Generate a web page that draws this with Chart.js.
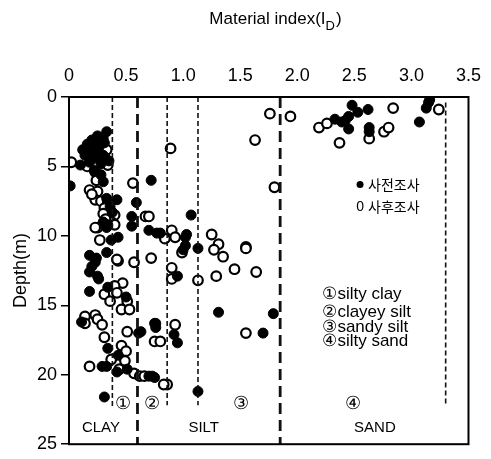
<!DOCTYPE html>
<html>
<head>
<meta charset="utf-8">
<script src="https://cdn.jsdelivr.net/npm/chart.js@4/dist/chart.umd.min.js"></script>
<style>
  html, body { margin: 0; padding: 0; background: #fff; }
  #wrap { width: 491px; height: 459px; }
</style>
</head>
<body>
<div id="wrap"><canvas id="chart" width="491" height="459"></canvas></div>
<script>
// 사전조사 (filled) : material index, depth
const preIndex = [2.48, 2.53, 2.62, 2.45, 2.42, 2.33, 2.45, 2.63, 2.63, 3.07, 3.15, 3.13, 3.16, 2.39,
  1.07, 0.8, 1.03, 1.02, 1.0, 1.13, 0.95, 1.31, 1.79, 1.7, 0.76, 0.76, 0.92, 0.95, 0.73, 1.13,
  0.72, 0.59, 0.55, 0.55, 0.7, 0.77, 1.02, 0.43, 0.34, 0.42, 0.38, 0.33, 0.18, 0.24, 0.33, 0.23,
  0.18, 0.25, 0.18, 0.34, 0.5, 0.11, 0.63, 0.75, 0.34, 0.43, 0.29, 0.33, 0.42, 0.51, 0.7, 0.75,
  0.31, 0.61, 0.33, 0.25, 0.3, 0.2, 0.16, 0.28, 0.22, 0.18, 0.26, 0.3, 0.14, 0.22, 0.18, 0.28,
  0.35, 0.1, 0.22, 0.28, 0.3, 0.01, 0.33, 0.36, 0.3, 0.37, 0.2, 0.26, 0.12, 0.31];
const preDepth = [0.6, 1.1, 0.9, 1.4, 1.7, 1.6, 2.3, 2.2, 2.5, 1.8, 0.4, 0.8, 0.2, 1.8,
  8.5, 9.8, 9.9, 10.7, 11.0, 10.9, 12.9, 15.5, 15.6, 17.0, 16.3, 16.6, 17.1, 17.7, 20.1, 21.2,
  6.0, 7.6, 8.6, 9.3, 9.6, 9.8, 10.1, 10.1, 9.2, 7.4, 8.3, 9.4, 11.4, 11.6, 11.2, 11.9,
  12.6, 12.9, 14.0, 13.7, 14.4, 16.2, 16.9, 16.3, 18.1, 18.6, 19.4, 19.4, 19.8, 19.6, 20.1, 20.2,
  21.6, 17.0, 2.5, 2.8, 3.0, 3.1, 3.4, 3.4, 3.6, 3.9, 3.9, 4.2, 4.2, 4.4, 4.7, 4.8,
  4.6, 4.9, 5.3, 5.6, 6.1, 6.4, 7.3, 7.9, 9.0, 10.3, 12.2, 13.1, 3.8, 3.3];

// 사후조사 (open)
const postIndex = [1.94, 2.19, 2.26, 2.37, 2.63, 2.76, 2.8, 2.84, 3.24, 1.76, 1.63, 1.8, 1.55, 0.89,
  0.9, 0.93, 0.84, 0.99, 1.25, 1.31, 1.27, 1.35, 1.55, 1.45, 1.64, 1.29, 0.9, 0.9, 1.13, 1.55,
  0.75, 0.8, 0.93, 0.86, 0.83,
  0.56, 0.67, 0.72, 0.57, 0.43, 0.27, 0.25, 0.18, 0.25, 0.23, 0.28, 0.34, 0.31, 0.4, 0.37, 0.23,
  0.4, 0.7, 0.42, 0.47, 0.4, 0.31, 0.42, 0.36, 0.51, 0.46, 0.53, 0.14, 0.23, 0.25, 0.14, 0.29,
  0.51, 0.31, 0.46, 0.5, 0.37, 0.49, 0.18, 0.44, 0.57, 0.62, 0.66,
  0.02, 0.31, 0.34, 0.23, 0.24, 0.16, 0.33, 0.2, 0.3, 0.32];
const postDepth = [1.4, 2.2, 1.9, 3.3, 3.0, 2.5, 2.2, 0.8, 0.9, 1.2, 3.1, 6.5, 10.8, 3.7,
  9.6, 10.1, 10.2, 11.2, 9.9, 10.6, 11.0, 11.5, 10.9, 12.4, 12.6, 12.9, 12.3, 13.1, 13.2, 17.0,
  17.6, 17.6, 16.4, 20.7, 20.7,
  6.2, 8.6, 11.6, 11.9, 11.8, 10.3, 9.4, 6.7, 6.8, 7.4, 7.5, 7.6, 8.0, 8.5, 9.0, 9.4,
  9.2, 8.6, 11.7, 13.4, 13.6, 14.2, 14.1, 14.7, 14.7, 15.3, 15.3, 15.8, 15.7, 16.0, 16.3, 16.4,
  16.9, 17.3, 17.9, 18.3, 18.9, 19.0, 19.4, 19.6, 19.9, 20.1, 20.1,
  4.7, 4.3, 4.9, 5.4, 6.0, 5.0, 3.8, 7.0, 8.4, 8.8];

// soil class boundaries (index value, depth range)
const thinLines = [0.38, 0.86, 1.13, 3.3];
const thinFrom = [0, 0, 0, 0.4];
const thinTo = [22.4, 22.2, 22.2, 22.2];
const thickLines = [0.6, 1.85];

const xTicks = [0, 0.5, 1, 1.5, 2, 2.5, 3, 3.5];
const yTicks = [0, 5, 10, 15, 20, 25];

const zoneMarks = ['①', '②', '③', '④'];
const zoneMarkX = [0.47, 0.73, 1.51, 2.49];
const zoneNames = ['CLAY', 'SILT', 'SAND'];
const zoneNameX = [0.28, 1.18, 2.68];
const keyLines = ['①silty clay', '②clayey silt', '③sandy silt', '④silty sand'];
const keyDepth = [14.2, 15.5, 16.6, 17.6];

const zip = (xs, ys) => xs.map((x, i) => ({ x: x, y: ys[i] }));

const datasets = [];
thinLines.forEach((x, i) => {
  datasets.push({
    type: 'line', data: [{ x: x, y: thinFrom[i] }, { x: x, y: thinTo[i] }],
    borderColor: '#111', borderWidth: 1.6, borderDash: [5, 3], pointRadius: 0
  });
});
thickLines.forEach(x => {
  datasets.push({
    type: 'line', data: [{ x: x, y: 0 }, { x: x, y: 25 }],
    borderColor: '#111', borderWidth: 2.8, borderDash: [11, 6], pointRadius: 0
  });
});
datasets.push({
  label: '사전조사', data: zip(preIndex, preDepth),
  pointRadius: 5, backgroundColor: '#000', borderColor: '#000', borderWidth: 1
});
datasets.push({
  label: '사후조사', data: zip(postIndex, postDepth),
  pointRadius: 4.8, backgroundColor: '#fff', borderColor: '#000', borderWidth: 2.2
});

const latin = '"Liberation Sans", Arial, sans-serif';

const decor = {
  id: 'decor',
  afterDraw(chart) {
    const { ctx, chartArea: a } = chart;
    const xs = chart.scales.x, ys = chart.scales.y;
    ctx.save();
    ctx.strokeStyle = '#000';
    ctx.lineWidth = 2;
    ctx.strokeRect(a.left, a.top, a.right - a.left, a.bottom - a.top);

    ctx.fillStyle = '#000';
    ctx.textBaseline = 'middle';
    // top title with subscript D
    ctx.font = '17px ' + latin;
    const t1 = 'Material index(I', t2 = 'D', t3 = ')';
    ctx.textAlign = 'left';
    const w1 = ctx.measureText(t1).width;
    ctx.font = '13px ' + latin;
    const w2 = ctx.measureText(t2).width;
    ctx.font = '17px ' + latin;
    const w3 = ctx.measureText(t3).width;
    let tx = 275 - (w1 + w2 + w3) / 2;
    ctx.fillText(t1, tx, 19);
    ctx.font = '13px ' + latin;
    ctx.fillText(t2, tx + w1, 26);
    ctx.font = '17px ' + latin;
    ctx.fillText(t3, tx + w1 + w2 + 1, 19);

    // zone markers
    ctx.textAlign = 'center';
    ctx.font = '18px ' + latin;
    zoneMarks.forEach((m, i) => ctx.fillText(m, xs.getPixelForValue(zoneMarkX[i]), ys.getPixelForValue(22.1)));
    ctx.font = '15px ' + latin;
    zoneNames.forEach((m, i) => ctx.fillText(m, xs.getPixelForValue(zoneNameX[i]), ys.getPixelForValue(23.8)));

    // key text
    ctx.textAlign = 'left';
    ctx.font = '17px ' + latin;
    keyLines.forEach((m, i) => ctx.fillText(m, xs.getPixelForValue(2.22), ys.getPixelForValue(keyDepth[i])));

    // legend
    ctx.font = '14px "Noto Sans CJK KR", sans-serif';
    const lx = xs.getPixelForValue(2.55);
    ctx.beginPath();
    ctx.arc(lx, ys.getPixelForValue(6.3), 3.5, 0, Math.PI * 2);
    ctx.fill();
    ctx.fillText('사전조사', lx + 8, ys.getPixelForValue(6.3));
    ctx.font = '14px ' + latin;
    ctx.textAlign = 'center';
    ctx.fillText('0', lx, ys.getPixelForValue(7.9));
    ctx.textAlign = 'left';
    ctx.font = '14px "Noto Sans CJK KR", sans-serif';
    ctx.fillText('사후조사', lx + 8, ys.getPixelForValue(7.9));
    ctx.restore();
  }
};

new Chart(document.getElementById('chart'), {
  type: 'scatter',
  data: { datasets: datasets },
  plugins: [decor],
  options: {
    responsive: false,
    animation: false,
    layout: { padding: { left: 0, right: 18, top: 0, bottom: 14 } },
    plugins: { legend: { display: false }, tooltip: { enabled: false } },
    scales: {
      x: {
        type: 'linear', position: 'top', min: 0, max: 3.5,
        afterFit: s => { s.height = 97; },
        afterBuildTicks: s => { s.ticks = xTicks.map(v => ({ value: v })); },
        grid: { display: false, drawTicks: false },
        border: { display: false },
        ticks: { color: '#000', padding: 10, font: { size: 18, family: latin } }
      },
      y: {
        type: 'linear', reverse: true, min: 0, max: 25,
        afterFit: s => { s.width = 69; },
        afterBuildTicks: s => { s.ticks = yTicks.map(v => ({ value: v })); },
        grid: { drawOnChartArea: false, drawTicks: true, tickLength: 8, color: '#000', lineWidth: 1.5 },
        border: { display: false },
        ticks: { color: '#000', padding: 4, font: { size: 18, family: latin } },
        title: { display: true, text: 'Depth(m)', color: '#000', padding: { top: 10 }, font: { size: 18, family: latin } }
      }
    }
  }
});
</script>
</body>
</html>
